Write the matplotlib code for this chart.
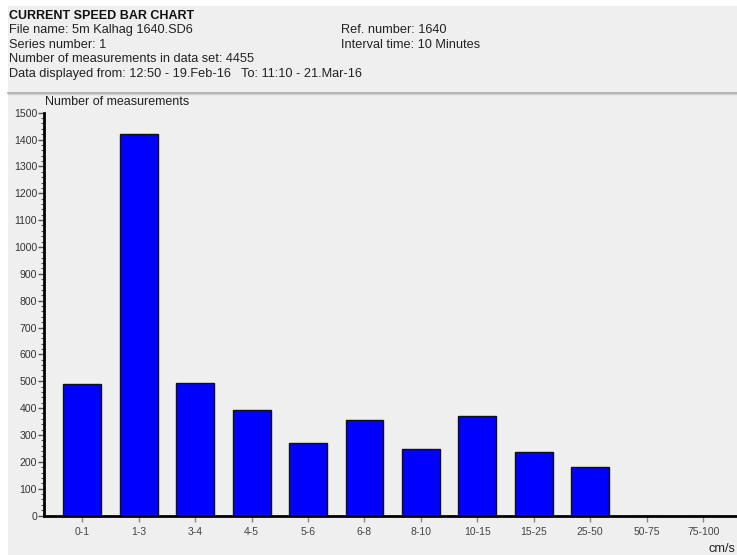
import matplotlib.pyplot as plt
from matplotlib.patches import Rectangle
from matplotlib.lines import Line2D
from matplotlib.ticker import MultipleLocator

plt.rcParams['font.family'] = ['Liberation Sans', 'DejaVu Sans']

# speed classes (cm/s) and counts
classes = ['0-1', '1-3', '3-4', '4-5', '5-6', '6-8', '8-10', '10-15', '15-25', '25-50', '50-75', '75-100']
counts = [490, 1420, 492, 393, 269, 357, 248, 370, 235, 181, 0, 0]

header_left = ['File name: 5m Kalhag 1640.SD6',
               'Series number: 1',
               'Number of measurements in data set: 4455',
               'Data displayed from: 12:50 - 19.Feb-16   To: 11:10 - 21.Mar-16']
header_right = ['Ref. number: 1640', 'Interval time: 10 Minutes']

W, H = 737, 555
fig = plt.figure(figsize=(W / 100, H / 100), dpi=100)
fig.patch.set_facecolor('white')

# gray panel (white strip on the left and at the top)
fig.add_artist(Rectangle((8 / W, 0), 1 - 8 / W, 1 - 6 / H, transform=fig.transFigure,
                         facecolor='#efefef', edgecolor='none', zorder=-10))
# separator under the header
fig.add_artist(Line2D([8 / W, 1], [1 - 92.5 / H] * 2, transform=fig.transFigure, color='#a8a8a8', lw=1.2))
fig.add_artist(Line2D([8 / W, 1], [1 - 94 / H] * 2, transform=fig.transFigure, color='#d0d0d0', lw=1))

# header text
fig.text(9 / W, 1 - 19 / H, 'CURRENT SPEED BAR CHART', fontsize=9.0, fontweight='bold', color='#111111')
for i, s in enumerate(header_left):
    fig.text(9 / W, 1 - (33.3 + 14.4 * i) / H, s, fontsize=9.2, color='#222222')
for i, s in enumerate(header_right):
    fig.text(341 / W, 1 - (33.3 + 14.4 * i) / H, s, fontsize=9.2, color='#222222')

ax = fig.add_axes([44 / W, 1 - 515.5 / H, 1 - 44 / W, 402.8 / H])
ax.set_facecolor('none')

x = range(len(classes))
ax.bar(x, counts, width=0.67, color='#0000ff', edgecolor='#111111', linewidth=1.0)

ax.set_xlim(-0.678, 11.6)
ax.set_ylim(0, 1500)
ax.yaxis.set_major_locator(MultipleLocator(100))
ax.yaxis.set_minor_locator(MultipleLocator(20))
ax.set_xticks(list(x))
ax.set_xticklabels(classes)

for side in ['top', 'right']:
    ax.spines[side].set_visible(False)
ax.spines['left'].set_linewidth(2)
ax.spines['bottom'].set_linewidth(2)

ax.tick_params(axis='y', which='major', length=4, width=1, color='#555555', pad=1,
               labelsize=7.6, labelcolor='#333333')
ax.tick_params(axis='y', which='minor', length=2, width=0.8, color='#555555')
ax.tick_params(axis='x', length=4, width=1, color='#888888', pad=4,
               labelsize=7.5, labelcolor='#444444')

fig.text(45 / W, 1 - 102 / H, 'Number of measurements', fontsize=9.0, color='#222222', va='center')
fig.text(735 / W, 1 - 549 / H, 'cm/s', fontsize=9.2, color='#222222', va='center', ha='right')

fig.savefig('out.png', dpi=100, facecolor=fig.get_facecolor())
